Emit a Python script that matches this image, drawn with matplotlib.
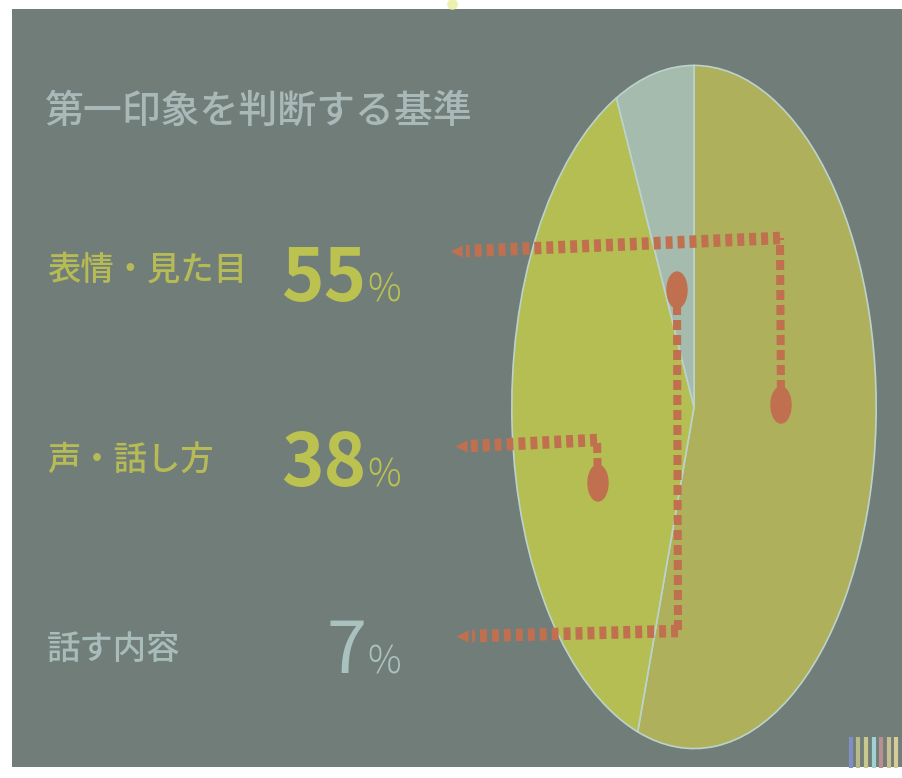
import matplotlib
matplotlib.use('Agg')
import matplotlib.pyplot as plt
from matplotlib.patches import Ellipse, Rectangle

plt.rcParams['lines.scale_dashes'] = False

# ---- data ----
title = '第一印象を判断する基準'
categories = ['表情・見た目', '声・話し方', '話す内容']
shares = [55, 38, 7]
value_labels = ['55', '38', '7']

# ---- style ----
W, H = 902, 778
BG = '#717d79'
JP = ['Noto Sans CJK JP', 'DejaVu Sans']
slice_colors = ['#aeb05b', '#b4be53', '#a4bbae']
label_colors = ['#b6bb55', '#b6bb55', '#a8bdb9']
value_colors = ['#bcc24f', '#bcc24f', '#aac2bd']
value_weights = ['bold', 'bold', 'normal']
ORANGE = '#c0704f'

fig = plt.figure(figsize=(W / 100, H / 100), dpi=100, facecolor='white')

# screen background
bg = fig.add_axes([0, 0, 1, 1], zorder=0)
bg.set_xlim(0, W)
bg.set_ylim(H, 0)
bg.axis('off')
bg.add_patch(Rectangle((12, 9), W - 12, H - 20, facecolor=BG, edgecolor='none'))
# projector glow and colour stripes (photo artefacts)
bg.scatter([452], [4], s=60, color='#e8ef9a', alpha=0.8, linewidths=0)
for xs, c in zip([851, 858, 866, 874, 881, 889, 896],
                 ['#7f8fc4', '#b9b98a', '#c9c98f', '#9fd2d0', '#b98f8f', '#c9c08f', '#d6cc9a']):
    bg.vlines(xs, 737, 768, color=c, lw=3)

# pie (elliptical as in the photo)
pax = fig.add_axes([510 / W, (H - 752) / H, 368 / W, 690 / H], zorder=1)
pax.pie(shares, colors=slice_colors, startangle=90, counterclock=False,
        wedgeprops=dict(edgecolor='#bcd3cd', linewidth=1.2))
pax.set_aspect('auto')
pax.set_xlim(-1.01, 1.01)
pax.set_ylim(-1.01, 1.01)
pax.axis('off')

# overlay for text and connectors
ov = fig.add_axes([0, 0, 1, 1], zorder=2)
ov.set_xlim(0, W)
ov.set_ylim(H, 0)
ov.axis('off')
ov.patch.set_alpha(0)

ov.text(45, 112, title, fontsize=28, color='#a9b9b8', family=JP, weight='medium',
        ha='left', va='center')

label_y = [270, 460, 650]
value_base = [301, 486, 673]
for cat, val, ly, vb, lc, vc, vw in zip(categories, value_labels, label_y, value_base,
                                         label_colors, value_colors, value_weights):
    ov.text(47, ly, cat, fontsize=24, color=lc, family=JP, weight='medium',
            ha='left', va='center')
    ov.text(366, vb, val, fontsize=52, color=vc, family=JP, weight=vw,
            ha='right', va='baseline')
    ov.text(367, vb, '%', fontsize=27, color=vc, family=JP, weight='light',
            ha='left', va='baseline')

# connectors: dot -> vertical -> horizontal -> arrow head
connectors = [
    dict(dot=(781, 405), corner=(780, 238), end=(456, 251)),
    dict(dot=(598, 483), corner=(597, 440), end=(461, 446)),
    dict(dot=(677, 290), corner=(678, 631), end=(462, 636)),
]
for c in connectors:
    dx, dy = c['dot']
    cx, cy = c['corner']
    ex, ey = c['end']
    ov.plot([dx, cx], [dy, cy], color=ORANGE, lw=5.8, dashes=(7.2, 3.6),
            solid_capstyle='butt', dash_capstyle='butt')
    ov.plot([cx, ex + 10], [cy, ey], color=ORANGE, lw=9.0, dashes=(5.0, 3.6),
            dash_capstyle='butt')
    ov.add_patch(Ellipse((dx, dy), 20, 36, color=ORANGE))
    ov.plot([ex], [ey], marker='<', ms=9, color=ORANGE, mec='none')

fig.savefig('out.png', dpi=100, facecolor='white')
